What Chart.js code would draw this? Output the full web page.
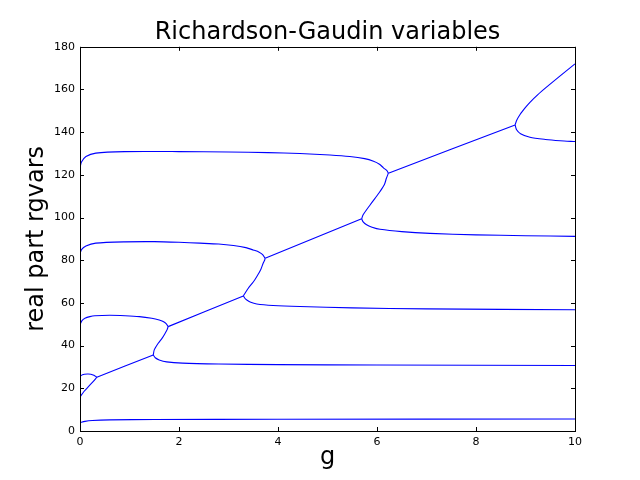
<!DOCTYPE html>
<html>
<head>
<meta charset="utf-8">
<script src="https://cdn.jsdelivr.net/npm/chart.js@4"></script>
<style>
  body { margin: 0; background: #fff; }
</style>
</head>
<body>
<canvas id="myChart" width="640" height="480"></canvas>
<script>
// values: g on x, real part on y
const xTicks = [0, 2, 4, 6, 8, 10];
const yTicks = [0, 20, 40, 60, 80, 100, 120, 140, 160, 180];

const low_g = [0, 0.1, 0.25, 0.6, 1.5, 4, 10];
const low_v = [3.9, 4.5, 4.9, 5.2, 5.4, 5.5, 5.6];

const a1_g = [0, 0.08, 0.17, 0.26, 0.34];
const a1_v = [16.0, 18.5, 20.8, 23.0, 25.2];
const a2_g = [0, 0.05, 0.15, 0.22, 0.28, 0.34];
const a2_v = [25.6, 26.4, 26.7, 26.6, 26.1, 25.2];
const l1_g = [0.34, 1.48];
const l1_v = [25.2, 35.6];
const d1_g = [1.48, 1.52, 1.6, 1.75, 2.07, 2.8, 4, 6, 10];
const d1_v = [35.6, 34.3, 33.3, 32.4, 31.8, 31.4, 31.1, 30.9, 30.7];
const s1_g = [1.48, 1.50, 1.58, 1.66, 1.72, 1.76, 1.78];
const s1_v = [35.6, 38.0, 41.1, 43.5, 45.8, 47.5, 48.9];
const b_g = [0, 0.04, 0.1, 0.2, 0.3, 0.6, 0.91, 1.2, 1.45, 1.6, 1.68, 1.74, 1.78];
const b_v = [49.8, 51.7, 52.8, 53.6, 54.0, 54.2, 54.0, 53.6, 52.8, 52.0, 51.3, 50.3, 48.9];
const l2_g = [1.78, 3.30];
const l2_v = [48.9, 63.3];
const d2_g = [3.30, 3.33, 3.37, 3.45, 3.57, 3.9, 4.44, 5.5, 7, 10];
const d2_v = [63.3, 62.2, 61.4, 60.3, 59.5, 58.8, 58.3, 57.7, 57.2, 56.8];
const s2_g = [3.30, 3.40, 3.50, 3.57, 3.65, 3.70, 3.73, 3.74];
const s2_v = [63.3, 66.9, 69.8, 72.3, 75.5, 78.6, 80.0, 80.9];
const c_g = [0, 0.03, 0.12, 0.32, 0.9, 1.5, 2.0, 2.42, 2.8, 3.1, 3.35, 3.5, 3.62, 3.69, 3.74];
const c_v = [83.0, 85.0, 86.7, 88.0, 88.6, 88.7, 88.4, 88.0, 87.6, 86.9, 85.9, 84.8, 83.8, 82.6, 80.9];
const l3_g = [3.74, 5.69];
const l3_v = [80.9, 99.4];
const d3_g = [5.69, 5.72, 5.79, 5.9, 6.06, 6.5, 7.07, 8, 9, 10];
const d3_v = [99.4, 98.0, 96.6, 95.5, 94.5, 93.4, 92.6, 91.9, 91.5, 91.2];
const s3_g = [5.69, 5.72, 5.86, 5.96, 6.06, 6.15, 6.19, 6.23];
const s3_v = [99.4, 101.3, 105.9, 109.0, 112.2, 115.5, 118.4, 120.8];
const e_g = [0, 0.03, 0.12, 0.32, 0.9, 2, 3, 3.8, 4.44, 5.05, 5.45, 5.75, 5.93, 6.05, 6.13, 6.2, 6.23];
const e_v = [123.4, 126.0, 128.6, 130.2, 130.9, 130.9, 130.7, 130.4, 130.0, 129.3, 128.6, 127.6, 126.4, 125.0, 123.3, 122.0, 120.8];
const l4_g = [6.23, 8.79];
const l4_v = [120.8, 143.4];
const up_g = [8.79, 8.82, 8.89, 9.0, 9.09, 9.25, 9.43, 9.7, 10];
const up_v = [143.4, 145.5, 148.3, 151.6, 154.0, 157.6, 161.2, 166.4, 172.0];
const dn_g = [8.79, 8.82, 8.9, 9.09, 9.4, 9.7, 10];
const dn_v = [143.4, 141.1, 139.3, 137.6, 136.6, 136.0, 135.6];

const branches = [
  [low_g, low_v], [a1_g, a1_v], [a2_g, a2_v], [l1_g, l1_v], [d1_g, d1_v], [s1_g, s1_v],
  [b_g, b_v], [l2_g, l2_v], [d2_g, d2_v], [s2_g, s2_v], [c_g, c_v], [l3_g, l3_v],
  [d3_g, d3_v], [s3_g, s3_v], [e_g, e_v], [l4_g, l4_v], [up_g, up_v], [dn_g, dn_v]
];

const datasets = branches.map(([gs, vs]) => ({
  data: gs.map((g, i) => ({ x: g, y: vs[i] })),
  borderColor: "#0000ff",
  borderWidth: 1.1,
  pointRadius: 0,
  showLine: true,
  fill: false,
  tension: 0.25,
}));

// matplotlib-like frame with ticks pointing inward on all sides
const frameTicks = {
  id: "frameTicks",
  afterDraw(chart) {
    const { ctx, chartArea: a, scales } = chart;
    ctx.save();
    ctx.strokeStyle = "#000";
    ctx.lineWidth = 1;
    ctx.beginPath();
    xTicks.forEach((t) => {
      const px = Math.round(scales.x.getPixelForValue(t)) + 0.5;
      ctx.moveTo(px, a.bottom); ctx.lineTo(px, a.bottom - 4);
      ctx.moveTo(px, a.top); ctx.lineTo(px, a.top + 4);
    });
    yTicks.forEach((t) => {
      const py = Math.round(scales.y.getPixelForValue(t)) + 0.5;
      ctx.moveTo(a.left, py); ctx.lineTo(a.left + 4, py);
      ctx.moveTo(a.right, py); ctx.lineTo(a.right - 4, py);
    });
    ctx.stroke();
    ctx.strokeRect(Math.round(a.left) + 0.5, Math.round(a.top) + 0.5,
      Math.round(a.right - a.left), Math.round(a.bottom - a.top));
    ctx.restore();
  },
};

Chart.defaults.font.family = "'DejaVu Sans', sans-serif";
Chart.defaults.color = "#000";

const config = {
  type: "scatter",
  data: { datasets: datasets },
  options: {
    responsive: false,
    animation: false,
    events: [],
    layout: { padding: { top: 0, right: 65, bottom: 0, left: 0 } },
    plugins: {
      legend: { display: false },
      tooltip: { enabled: false },
      title: {
        display: true,
        fullSize: false,
        text: "Richardson-Gaudin variables",
        font: { size: 24, weight: "normal", lineHeight: 1.2 },
        color: "#000",
        padding: { top: 18, bottom: 0 },
      },
    },
    scales: {
      x: {
        type: "linear",
        min: 0,
        max: 10,
        grid: { display: false, drawTicks: false },
        border: { display: false },
        ticks: { stepSize: 2, font: { size: 11 }, padding: 5, maxRotation: 0 },
        title: {
          display: true,
          text: "g",
          font: { size: 24, lineHeight: 1.2 },
          padding: { top: 0, bottom: 8 },
        },
        afterFit(scale) { scale.height = 49; },
      },
      y: {
        type: "linear",
        min: 0,
        max: 180,
        grid: { display: false, drawTicks: false },
        border: { display: false },
        ticks: { stepSize: 20, font: { size: 11 }, padding: 5 },
        title: {
          display: true,
          text: "real part rgvars",
          font: { size: 24, lineHeight: 1.2 },
          padding: { top: 22, bottom: 0 },
        },
        afterFit(scale) { scale.width = 80; },
      },
    },
  },
  plugins: [frameTicks],
};

const myChart = new Chart(document.getElementById("myChart"), config);
</script>
</body>
</html>
